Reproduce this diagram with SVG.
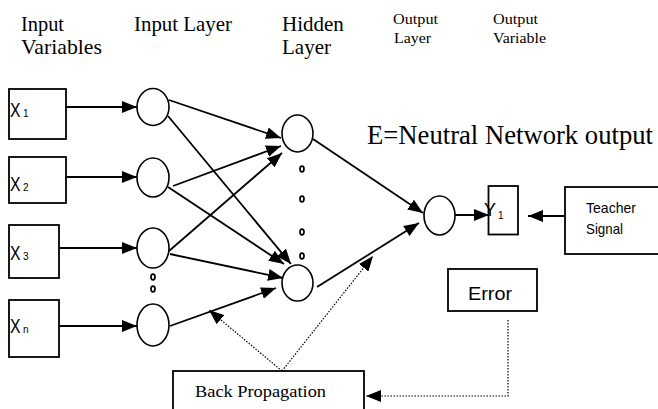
<svg xmlns="http://www.w3.org/2000/svg" width="658" height="409" viewBox="0 0 658 409">
<defs>
<style>
.box{fill:#fff;stroke:#000;stroke-width:1.8}
.node{fill:#fff;stroke:#000;stroke-width:1.6}
.dot{fill:#fff;stroke:#000;stroke-width:1.7}
.ln{fill:none;stroke:#000;stroke-width:1.8;marker-end:url(#ah)}
.dla{fill:none;stroke:#000;stroke-width:1.2;stroke-dasharray:1.5 1.5;marker-end:url(#ah)}
.serif{font-family:"Liberation Serif","Times New Roman",serif;fill:#000}
.sans{font-family:"Liberation Sans",Arial,sans-serif;fill:#000}
</style>
<marker id="ah" markerUnits="userSpaceOnUse" markerWidth="16" markerHeight="12" refX="15" refY="6" orient="auto">
<path d="M0,0 L15,6 L0,12 z" fill="#000"/>
</marker>
</defs>
<rect width="658" height="409" fill="#fff"/>

<g id="labels">
<text class="serif" x="21" y="31" font-size="21" textLength="43" lengthAdjust="spacingAndGlyphs">Input</text>
<text class="serif" x="21" y="54" font-size="21" textLength="81" lengthAdjust="spacingAndGlyphs">Variables</text>
<text class="serif" x="134" y="31" font-size="21" textLength="98" lengthAdjust="spacingAndGlyphs">Input Layer</text>
<text class="serif" x="282" y="31" font-size="21">Hidden</text>
<text class="serif" x="282" y="54" font-size="21">Layer</text>
<text class="serif" x="393" y="24" font-size="14" textLength="45" lengthAdjust="spacingAndGlyphs">Output</text>
<text class="serif" x="394" y="43" font-size="14" textLength="37" lengthAdjust="spacingAndGlyphs">Layer</text>
<text class="serif" x="493" y="24" font-size="14" textLength="45" lengthAdjust="spacingAndGlyphs">Output</text>
<text class="serif" x="493" y="43" font-size="14" textLength="53" lengthAdjust="spacingAndGlyphs">Variable</text>
<text class="serif" x="367" y="144" font-size="26.5" textLength="286" lengthAdjust="spacingAndGlyphs">E=Neutral Network output</text>
</g>

<g id="x1"><rect class="box" x="9" y="89" width="57" height="50"/>
<text class="sans" x="10" y="117" font-size="21" textLength="10.5" lengthAdjust="spacingAndGlyphs">X</text><text class="sans" x="23" y="117" font-size="10">1</text></g>
<g id="x2"><rect class="box" x="9" y="157" width="57" height="46"/>
<text class="sans" x="10" y="191" font-size="21" textLength="10.5" lengthAdjust="spacingAndGlyphs">X</text><text class="sans" x="23" y="191" font-size="10">2</text></g>
<g id="x3"><rect class="box" x="9" y="225" width="50" height="53"/>
<text class="sans" x="10" y="260" font-size="21" textLength="10.5" lengthAdjust="spacingAndGlyphs">X</text><text class="sans" x="23" y="260" font-size="10">3</text></g>
<g id="xn"><rect class="box" x="9" y="300" width="50" height="57"/>
<text class="sans" x="10" y="333" font-size="21" textLength="10.5" lengthAdjust="spacingAndGlyphs">X</text><text class="sans" x="23" y="333" font-size="10">n</text></g>

<g id="i1"><ellipse class="node" cx="153" cy="107" rx="16" ry="18.5"/></g>
<g id="i2"><ellipse class="node" cx="153" cy="177.5" rx="16" ry="19.5"/></g>
<g id="i3"><ellipse class="node" cx="153" cy="248" rx="16" ry="20"/></g>
<g id="in"><ellipse class="node" cx="153" cy="325" rx="16" ry="21"/></g>
<g id="idots"><ellipse class="dot" cx="153" cy="277" rx="2" ry="2.8"/><ellipse class="dot" cx="153" cy="289" rx="2" ry="2.8"/></g>

<g id="h1"><ellipse class="node" cx="297.5" cy="133.5" rx="15.5" ry="18.5"/></g>
<g id="h2"><ellipse class="node" cx="297.5" cy="283" rx="15.5" ry="18"/></g>
<g id="hdots"><ellipse class="dot" cx="302" cy="169" rx="2" ry="2.8"/><ellipse class="dot" cx="302" cy="199" rx="2" ry="2.8"/><ellipse class="dot" cx="302" cy="232" rx="2" ry="2.8"/><ellipse class="dot" cx="302" cy="256" rx="2" ry="2.8"/></g>

<g id="o1"><ellipse class="node" cx="439.5" cy="215.5" rx="15.5" ry="19.5"/></g>

<g id="y1"><rect class="box" x="488.5" y="186" width="29.5" height="48.5"/>
<text class="sans" x="484" y="216" font-size="19" textLength="12" lengthAdjust="spacingAndGlyphs">Y</text><text class="sans" x="498" y="219" font-size="10">1</text></g>

<g id="teacher"><rect class="box" x="565" y="187" width="100" height="67"/>
<text class="sans" x="586" y="213" font-size="15" textLength="50" lengthAdjust="spacingAndGlyphs">Teacher</text>
<text class="sans" x="586" y="234" font-size="15" textLength="37" lengthAdjust="spacingAndGlyphs">Signal</text></g>

<g id="error"><rect class="box" x="448" y="269" width="89" height="42"/>
<text class="sans" x="468" y="300" font-size="18" textLength="44" lengthAdjust="spacingAndGlyphs">Error</text></g>

<g id="backprop"><rect class="box" x="173" y="371" width="191" height="60"/>
<text class="serif" x="195" y="397" font-size="16" textLength="131" lengthAdjust="spacingAndGlyphs">Back Propagation</text></g>

<g id="connectors">
<line class="ln" x1="66" y1="107" x2="137" y2="107"/>
<line class="ln" x1="66" y1="177" x2="137" y2="177"/>
<line class="ln" x1="59" y1="248" x2="137" y2="248"/>
<line class="ln" x1="59" y1="326" x2="137" y2="326"/>
<line class="ln" x1="169" y1="100" x2="281" y2="138"/>
<line class="ln" x1="168" y1="116" x2="291" y2="264"/>
<line class="ln" x1="173" y1="186" x2="281" y2="146"/>
<line class="ln" x1="168" y1="187" x2="284" y2="264"/>
<line class="ln" x1="169" y1="251" x2="282" y2="153"/>
<line class="ln" x1="170" y1="254" x2="283" y2="278"/>
<line class="ln" x1="170" y1="326" x2="276" y2="288"/>
<line class="ln" x1="313" y1="139" x2="423" y2="213"/>
<line class="ln" x1="317" y1="287" x2="419" y2="223"/>
<line class="ln" x1="455" y1="215" x2="489" y2="215"/>
<line class="ln" x1="565" y1="216" x2="528" y2="216"/>
<line class="dla" x1="282" y1="371" x2="209" y2="310"/>
<line class="dla" x1="282" y1="371" x2="373" y2="256"/>
<polyline class="dla" points="508,320 508,396 366,396"/>
</g>
</svg>
